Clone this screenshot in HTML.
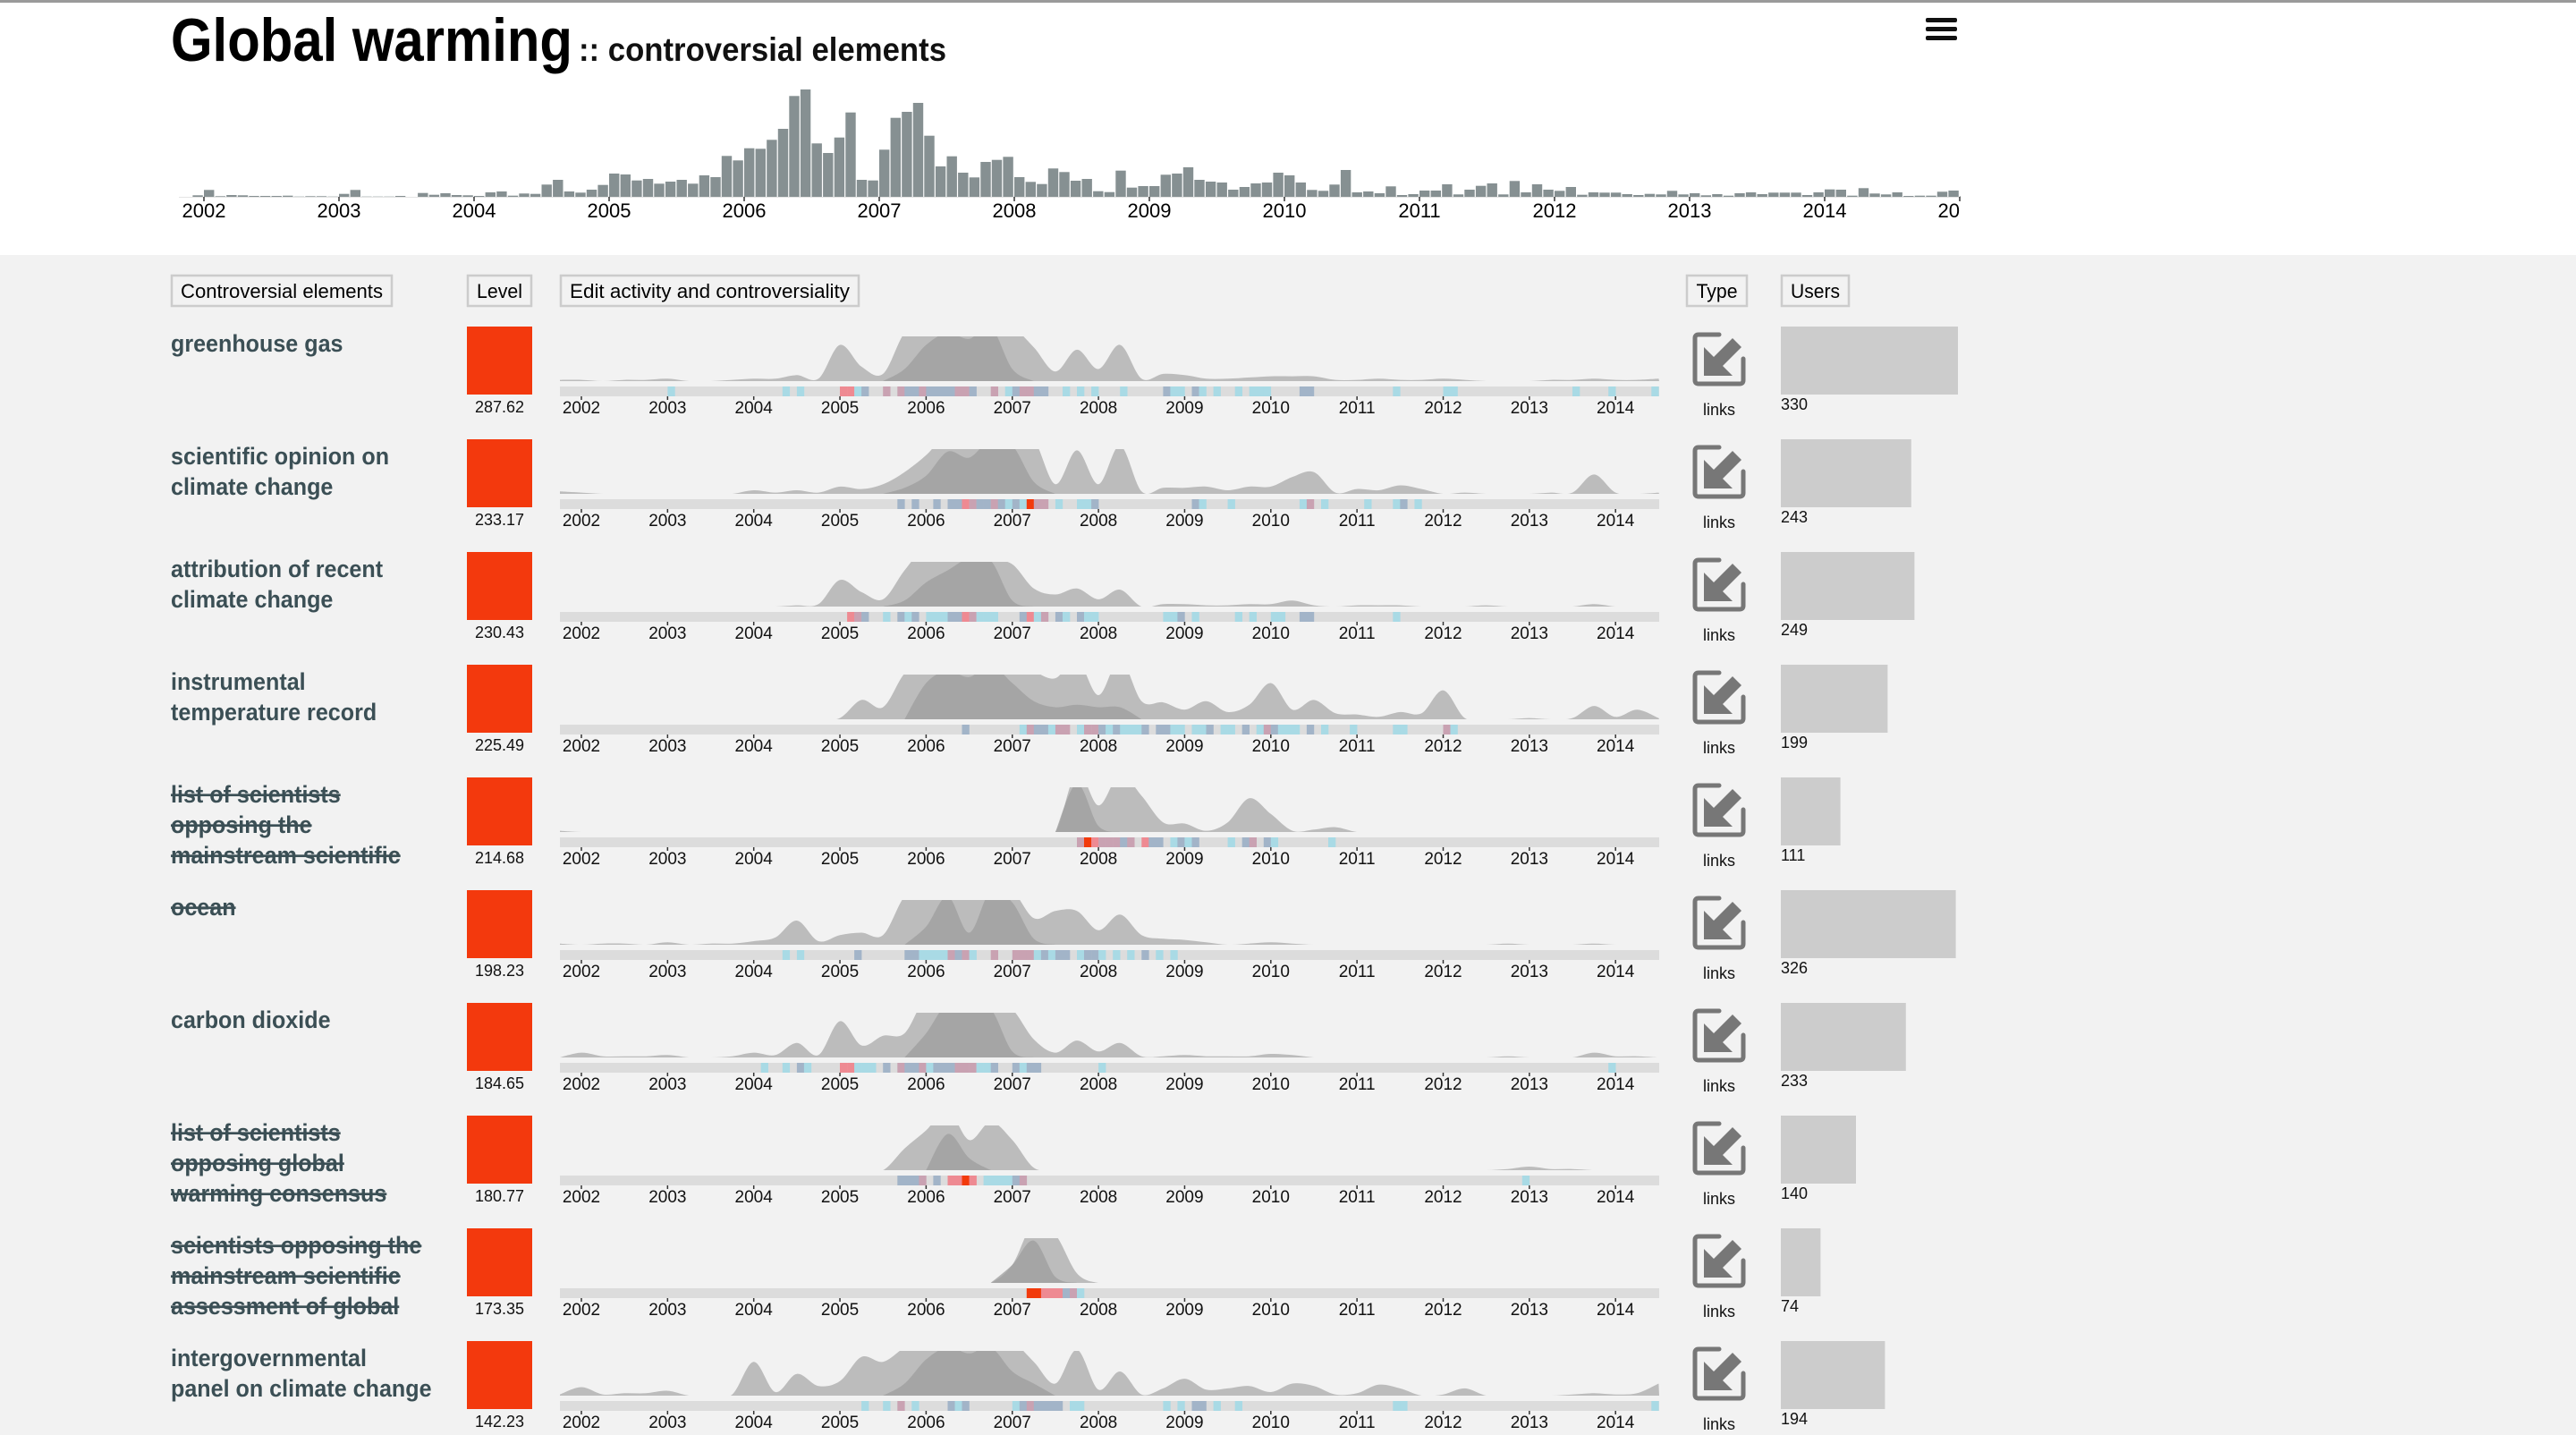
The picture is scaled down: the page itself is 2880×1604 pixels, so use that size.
<!DOCTYPE html>
<html><head><meta charset="utf-8"><title>Global warming :: controversial elements</title>
<style>
html,body{margin:0;padding:0;background:#f2f2f2;}
svg{display:block;font-family:"Liberation Sans",sans-serif;}
</style></head>
<body>
<svg id="root" width="2880" height="1604" viewBox="0 0 2880 1604" xmlns="http://www.w3.org/2000/svg">
  <defs>
    <clipPath id="histClip"><rect x="150" y="80" width="2042" height="200"/></clipPath>
  </defs>
  <rect x="0" y="0" width="2880" height="285" fill="#ffffff"/>
  <rect x="0" y="0" width="2880" height="3" fill="#9a9a9a"/>
  <rect x="0" y="285" width="2880" height="1319" fill="#f2f2f2"/>
  <text x="191" y="68" font-size="68" font-weight="bold" fill="#000" textLength="449" lengthAdjust="spacingAndGlyphs">Global warming</text>
  <text x="647" y="68" font-size="37" font-weight="bold" fill="#111" textLength="411" lengthAdjust="spacingAndGlyphs">:: controversial elements</text>
  <g>
    <rect x="2153" y="20" width="35" height="5" rx="2" fill="#111"/>
    <rect x="2153" y="30" width="35" height="5" rx="2" fill="#111"/>
    <rect x="2153" y="40" width="35" height="5" rx="2" fill="#111"/>
  </g>
  <g id="hist" clip-path="url(#histClip)"></g>
  <g id="headers"></g>
  <g id="rows"></g>
</svg>
<script>
// ---------- Histogram data (monthly edits, starting Dec 2001) ----------
const histStartYear = 2001 + 11/12;
const histValues = [5,
 23,2,6,5,3,3,3,4,1,2,2,1,
 10,23,1,1,1,3,0,13,7,12,6,5,
 3,15,18,4,11,10,41,57,18,14,24,40,
 78,75,55,60,44,51,57,44,72,66,137,122,
 163,161,191,228,338,360,179,147,199,283,57,55,
 158,265,285,315,205,102,136,81,65,117,124,134,
 66,50,43,95,83,54,60,19,16,88,31,36,
 36,74,78,99,57,51,48,24,33,45,48,81,
 72,48,23,20,41,90,15,18,12,35,6,9,
 21,21,42,8,24,37,45,8,53,15,42,24,
 20,33,7,15,14,14,9,6,10,8,20,8,
 12,5,9,4,12,15,9,14,14,14,6,15,
 25,24,4,29,11,8,15,3,4,4,17,21,
 2];
const histYears = ["2002","2003","2004","2005","2006","2007","2008","2009","2010","2011","2012","2013","2014","2015"];
const histMax = 360;

// ---------- Row data ----------
const rowTitles = [
 ["greenhouse gas"],
 ["scientific opinion on","climate change"],
 ["attribution of recent","climate change"],
 ["instrumental","temperature record"],
 ["list of scientists","opposing the","mainstream scientific"],
 ["ocean"],
 ["carbon dioxide"],
 ["list of scientists","opposing global","warming consensus"],
 ["scientists opposing the","mainstream scientific","assessment of global"],
 ["intergovernmental","panel on climate change"]
];
const rowStruck = [false,false,false,false,true,true,false,true,true,false];
const levels = ["287.62","233.17","230.43","225.49","214.68","198.23","184.65","180.77","173.35","142.23"];
const users = [330,243,249,199,111,326,233,140,74,194];
const rowYears = ["2002","2003","2004","2005","2006","2007","2008","2009","2010","2011","2012","2013","2014"];
// quarterly activity from 2001.75 to 2014.5 (52 values, px-scale, saturates at 50)
const activityStart = 2001.75;
const activity = [
 [1, 1,0,1,1, 2,0,0,1, 2,2,5,2, 30,12,6,40, 50,50,50,50, 45,28,8,26, 10,30,2,6, 5,2,2,3, 4,4,4,1, 1,2,1,1, 2,1,0,0, 0,1,1,2, 1,1,2],
 [2, 1,0,0,0, 0,0,0,0, 3,1,3,1, 6,4,8,18, 32,50,50,50, 50,45,8,36, 8,40,2,5, 5,6,3,6, 6,14,18,1, 4,3,7,4, 0,1,0,0, 0,1,1,16, 1,0,1],
 [0, 0,0,0,0, 0,0,0,0, 0,0,1,2, 22,12,6,30, 50,50,50,40, 35,15,10,15, 6,14,0,2, 2,1,1,2, 2,5,1,0, 1,1,1,0, 0,0,1,0, 0,0,0,2, 0,0,0],
 [0, 0,0,0,0, 0,0,0,0, 0,0,0,0, 1,16,10,38, 50,50,50,50, 50,40,34,50, 20,50,15,14, 8,15,6,12, 30,8,16,5, 4,2,6,5, 24,1,0,0, 1,0,1,11, 2,8,1],
 [1, 0,0,0,0, 0,0,0,0, 0,0,0,0, 0,0,0,0, 0,0,0,0, 0,0,0,50, 22,48,30,8, 7,1,8,28, 15,1,2,4, 0,0,0,0, 0,0,0,0, 0,0,0,0, 0,0,0],
 [1, 0,1,1,0, 2,0,1,1, 3,6,20,3, 8,10,8,40, 50,50,50,50, 45,22,28,28, 12,25,8,5, 4,2,0,1, 2,1,0,0, 0,0,0,0, 0,0,0,1, 0,0,0,1, 0,0,0],
 [0, 4,1,1,1, 2,0,0,1, 4,2,12,2, 30,10,18,20, 50,50,50,50, 40,15,4,14, 5,12,1,1, 2,1,1,1, 3,2,0,0, 0,0,0,0, 0,0,0,1, 0,0,0,4, 1,1,0],
 [0, 0,0,0,0, 0,0,0,0, 0,0,0,0, 0,0,0,18, 33,50,25,40, 25,2,0,0, 0,0,0,0, 0,0,0,0, 0,0,0,0, 0,0,0,0, 0,0,0,1, 3,1,1,0, 0,0,0],
 [0, 0,0,0,0, 0,0,0,0, 0,0,0,0, 0,0,0,0, 0,0,0,0, 15,50,40,8, 0,0,0,0, 0,0,0,0, 0,0,0,0, 0,0,0,0, 0,0,0,0, 0,0,0,0, 0,0,0],
 [1, 7,1,2,2, 4,0,0,1, 28,3,18,8, 12,32,28,40, 50,50,50,50, 45,28,10,38, 5,20,1,6, 14,5,6,8, 3,10,8,1, 2,9,6,0, 1,6,0,0, 0,0,1,2, 1,2,10]
];
// darker core layer: starting quarter index and values
const coreStart = [16,16,16,17,24,17,17,18,21,16];
const coreVals = [
 [10,30,40,35,45,10],
 [5,15,35,30,45,40,10],
 [5,20,30,40,38,5],
 [30,40,35,45,30,15,10,12,10,10],
 [40,5],
 [15,40,10,45,35,5],
 [20,45,40,40,5],
 [30,10],
 [15,35,5],
 [10,30,40,35,40,20,10]
];
// controversiality strip: month index (from 2001.75) + category
const strips = [
 ["15b","31b","33b","39s","40s","41b","42g","45m","47m","48g","49g","50m","51g","52g","53g","54g","55m","56m","57g","60m","62b","63g","64m","65m","66g","67g","70b","72b","74b","78b","84g","85b","86b","88g","89b","91b","94b","96b","97b","98b","103g","104g","116b","123b","124b","141b","146b","152b"],
 ["47g","49g","52g","54g","55g","56s","57m","58g","59g","60m","61g","62b","63g","64b","65r","66m","67m","69b","72b","73b","74g","88g","89b","93b","103b","104m","106b","112b","116b","117g","119b"],
 ["40s","41m","42g","45b","47g","48b","49g","51b","52b","53b","54g","55g","56s","57m","58b","59b","60b","64g","65s","66b","67m","69g","70b","72g","73b","74b","84b","85b","86g","88b","94b","96b","99b","100b","103g","104g","116b"],
 ["56g","64b","65m","66g","67g","68b","69m","70m","72b","73m","74m","75g","76b","77g","78b","79b","80b","81g","83g","84g","85b","86b","88b","89b","90g","92b","93b","95g","97b","98m","99g","100b","101b","102b","104g","106b","110b","116b","117b","123m","124b"],
 ["72m","73r","74s","75m","76m","77m","78g","79m","81s","82g","83g","85b","86g","87b","88g","93b","95g","96m","98g","99b","107b"],
 ["31b","33b","41g","48g","49g","50b","51b","52b","53b","54m","55g","56m","57b","60m","63m","64m","65m","66b","67g","68b","69g","70g","72b","73g","74g","75b","77b","79b","81g","83b","85b"],
 ["28b","31b","33g","34b","39s","40s","41b","42b","43b","45g","47m","48g","49g","50m","51b","52g","53g","54g","55m","56m","57m","58b","59b","60g","63g","64b","65g","66g","75b","146b"],
 ["47g","48g","49g","50m","52g","54s","55s","56r","57s","59b","60b","61b","62b","63g","64m","134b"],
 ["65r","66r","67s","68s","69s","70g","71m","72b"],
 ["42b","45b","47m","49b","54g","55b","56g","63b","64g","65m","66g","67g","68g","69g","71b","72b","84b","86b","88g","89g","91b","94b","116b","117b","152b"]
];
const stripColors = {b:"#a9dae5", g:"#a2b4c8", m:"#c9a2b2", s:"#ee8a92", r:"#f23a0c"};
const headerLabels = ["Controversial elements","Level","Edit activity and controversiality","Type","Users"];

// ---------- helpers ----------
const NS = "http://www.w3.org/2000/svg";
function mk(tag, attrs, parent){
  const el = document.createElementNS(NS, tag);
  for (const k in attrs) el.setAttribute(k, attrs[k]);
  if (parent) parent.appendChild(el);
  return el;
}
// histogram axis
const hx0 = 228, hPerYear = 151, hBase = 220, hHeight = 120;
const hxScale = y => hx0 + (y - 2002) * hPerYear;
const hyScale = v => hBase - v / histMax * hHeight;
// row chart axis
const cx0 = 650, cPerYear = 96.35, chartLeft = 626, chartRight = 1855;
const cxScale = y => cx0 + (y - 2002) * cPerYear;
const hScale = v => v * 1.35;

// ---------- histogram ----------
const hist = document.getElementById('hist');
mk('line',{x1:200,y1:hBase+0.5,x2:2192,y2:hBase+0.5,stroke:'#e4e4e4','stroke-width':1},hist);
histValues.forEach((v,i)=>{
  const y0 = histStartYear + i/12;
  const x = hxScale(y0);
  const w = hPerYear/12 - 1.2;
  const r = mk('rect',{x:x.toFixed(1),y:hyScale(v).toFixed(1),width:w.toFixed(1),height:(hBase-hyScale(v)).toFixed(1),fill:'#869092'},hist);
  
  
});
histYears.forEach((lab,i)=>{
  const x = hxScale(2002+i);
  const t = mk('line',{x1:x,y1:hBase,x2:x,y2:hBase+5,stroke:'#333','stroke-width':1.5},hist);
  
  
  const tx = mk('text',{x:x,y:243,'font-size':22,'text-anchor':'middle',fill:'#000'},hist);
  tx.textContent = lab;
  
  
});

// ---------- headers ----------
const headers = document.getElementById('headers');
const hdrBoxes = [[191,248,226],[522,73,51],[626,335,313],[1885,69,46],[1991,77,55]];
headerLabels.forEach((lab,i)=>{
  const b = hdrBoxes[i];
  const g = mk('g',{},headers);
  
  
  mk('rect',{x:b[0]+1,y:308,width:b[1]-2,height:34,fill:'#f2f2f2',stroke:'#cccccc','stroke-width':2.5},g);
  const t = mk('text',{x:b[0]+b[1]/2,y:333,'font-size':22,'text-anchor':'middle',fill:'#000',textLength:b[2],lengthAdjust:'spacingAndGlyphs'},g);
  t.textContent = lab;
});

// ---------- rows ----------
function smoothPath(pts){
  let d = 'M'+pts[0][0].toFixed(1)+','+pts[0][1].toFixed(1);
  for (let i=0;i<pts.length-1;i++){
    const p0 = pts[Math.max(0,i-1)], p1 = pts[i], p2 = pts[i+1], p3 = pts[Math.min(pts.length-1,i+2)];
    const c1x = p1[0]+(p2[0]-p0[0])/6, c1y = p1[1]+(p2[1]-p0[1])/6;
    const c2x = p2[0]-(p3[0]-p1[0])/6, c2y = p2[1]-(p3[1]-p1[1])/6;
    d += 'C'+c1x.toFixed(1)+','+c1y.toFixed(1)+' '+c2x.toFixed(1)+','+c2y.toFixed(1)+' '+p2[0].toFixed(1)+','+p2[1].toFixed(1);
  }
  return d;
}
const rowsG = document.getElementById('rows');
const defs = document.querySelector('defs');
rowTitles.forEach((lines,i)=>{
  const top = 365 + 126*i;
  const base = top + 61;      // area baseline
  const areaTop = top + 11;   // area clip top
  const g = mk('g',{},rowsG);
  
  

  // title
  const tg = mk('g',{transform:'translate(191,0) scale(0.93,1)'},g);
  
  
  lines.forEach((ln,j)=>{
    const t = mk('text',{x:0,y:top+28+34*j,'font-size':27,'font-weight':'bold',fill:'#3b4f55'},tg);
    if (rowStruck[i]) t.setAttribute('text-decoration','line-through');
    t.textContent = ln;
  });

  // level
  const lv = mk('rect',{x:522,y:top,width:73,height:76,fill:'#f3390d'},g);
  
  
  const lt = mk('text',{x:558.5,y:top+96,'font-size':18,'text-anchor':'middle',fill:'#111'},g);
  lt.textContent = levels[i];
  
  

  // activity chart
  const cid = 'clip'+i;
  const cp = mk('clipPath',{id:cid},defs);
  mk('rect',{x:chartLeft,y:areaTop,width:chartRight-chartLeft,height:base-areaTop},cp);
  const ag = mk('g',{'clip-path':'url(#'+cid+')'},g);
  
  
  const vals = activity[i];
  const pts = vals.map((v,k)=>[cxScale(activityStart+0.25*k), base - hScale(v)]);
  const d = smoothPath(pts);
  const area = mk('path',{d:'M'+chartLeft+','+base+' L'+pts[0][0].toFixed(1)+','+pts[0][1].toFixed(1)+' '+d.slice(d.indexOf('C'))+' L'+chartRight+','+base+' Z',fill:'#bcbcbc'},ag);
  
  
  const cv = coreVals[i];
  const cpts = [[cxScale(activityStart+0.25*(coreStart[i]-1)), base]];
  cv.forEach((v,k)=>cpts.push([cxScale(activityStart+0.25*(coreStart[i]+k)), base - hScale(v)]));
  cpts.push([cxScale(activityStart+0.25*(coreStart[i]+cv.length)), base]);
  const core = mk('path',{d:smoothPath(cpts)+' Z',fill:'#9e9e9e','fill-opacity':0.75},ag);
  
  

  // strip
  const sg = mk('g',{},g);
  
  
  mk('rect',{x:chartLeft,y:base+6,width:chartRight-chartLeft,height:11,fill:'#dcdcdc'},sg);
  const mw = cPerYear/12;
  strips[i].forEach(code=>{
    const m = parseInt(code,10), c = code.slice(-1);
    const x = cxScale(activityStart + m/12);
    const r = mk('rect',{x:x.toFixed(1),y:base+6,width:(mw+0.3).toFixed(1),height:11,fill:stripColors[c]},sg);
    
    
  });
  rowYears.forEach((lab,k)=>{
    const x = cxScale(2002+k);
    mk('line',{x1:x,y1:base+17,x2:x,y2:base+21,stroke:'#333','stroke-width':1.5},sg);
    const t = mk('text',{x:x,y:base+36,'font-size':19,'text-anchor':'middle',fill:'#111'},sg);
    t.textContent = lab;
    
    
  });

  // type icon
  const ig = mk('g',{transform:'translate(1892,'+(top+6)+')'},g);
  
  
  mk('path',{d:'M30 3 H7 Q3 3 3 7 V54 Q3 58 7 58 H53 Q57 58 57 54 V30',fill:'none',stroke:'#777','stroke-width':5,'stroke-linecap':'round'},ig);
  mk('polygon',{points:'13,17 13,49 45,49 34,38 55,17 45,7 24,28',fill:'#777'},ig);
  const lk = mk('text',{x:1922,y:top+99,'font-size':18,'text-anchor':'middle',fill:'#111'},g);
  lk.textContent = 'links';
  
  

  // users
  const ub = mk('rect',{x:1991,y:top,width:(users[i]*0.6).toFixed(1),height:76,fill:'#cccccc'},g);
  
  
  const ut = mk('text',{x:1991,y:top+93,'font-size':18,fill:'#111'},g);
  ut.textContent = String(users[i]);
  
  
});
</script>
</body></html>
